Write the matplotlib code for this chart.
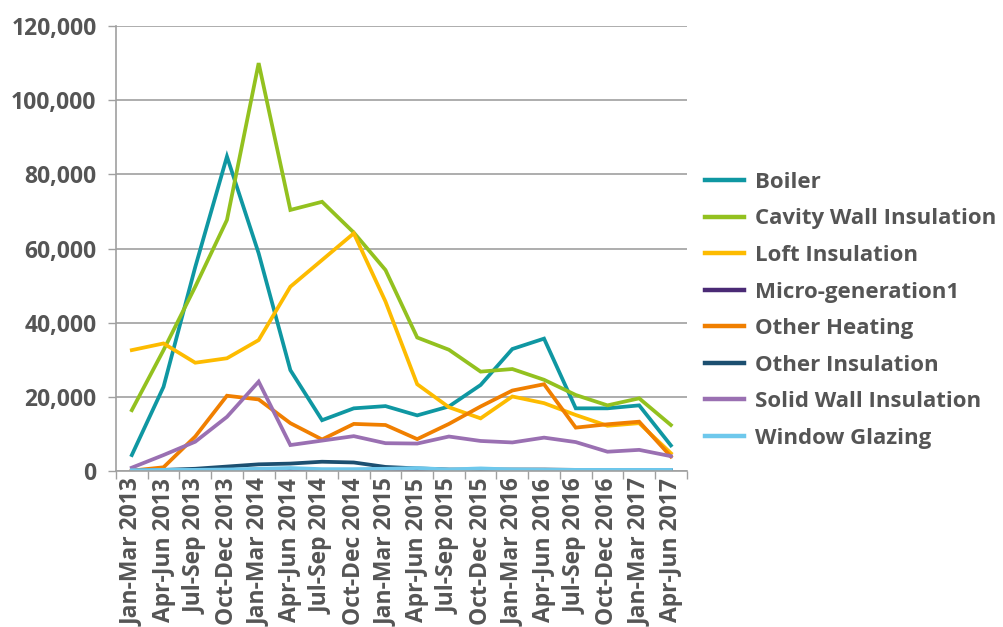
import numpy as np
import matplotlib.pyplot as plt
from matplotlib.ticker import FuncFormatter, FixedLocator

# Quarterly measures installed, by measure type
quarters = [
    "Jan-Mar 2013", "Apr-Jun 2013", "Jul-Sep 2013", "Oct-Dec 2013",
    "Jan-Mar 2014", "Apr-Jun 2014", "Jul-Sep 2014", "Oct-Dec 2014",
    "Jan-Mar 2015", "Apr-Jun 2015", "Jul-Sep 2015", "Oct-Dec 2015",
    "Jan-Mar 2016", "Apr-Jun 2016", "Jul-Sep 2016", "Oct-Dec 2016",
    "Jan-Mar 2017", "Apr-Jun 2017",
]

boiler = [4300, 22700, 55000, 84800, 58700, 27200, 13700, 16900, 17500,
          15000, 17400, 23200, 32900, 35700, 16900, 16900, 17700, 6900]
cavity_wall = [16400, 32600, 49700, 67700, 110000, 70400, 72600, 64300, 54200,
               36000, 32700, 26800, 27500, 24600, 20500, 17700, 19600, 12400]
loft = [32600, 34400, 29200, 30400, 35300, 49700, 56900, 64100, 45700,
        23400, 17200, 14200, 20100, 18300, 15100, 12200, 12900, 4800]
micro_generation = [50, 100, 150, 200, 300, 200, 100, 100, 150,
                    300, 100, 100, 100, 100, 100, 100, 100, 100]
other_heating = [100, 1000, 9300, 20300, 19300, 12900, 8500, 12700, 12400,
                 8600, 12700, 17400, 21700, 23400, 11700, 12600, 13300, 3900]
other_insulation = [100, 300, 600, 1200, 1800, 2000, 2500, 2300, 1100,
                    700, 400, 400, 400, 400, 300, 300, 300, 200]
solid_wall = [900, 4300, 7900, 14600, 24100, 7000, 8200, 9400, 7500,
              7400, 9300, 8100, 7700, 9000, 7800, 5200, 5700, 4000]
window_glazing = [200, 300, 300, 400, 600, 800, 500, 500, 600,
                  800, 400, 700, 400, 300, 300, 300, 300, 300]

series = [
    ("Boiler", boiler, "#0f97a2"),
    ("Cavity Wall Insulation", cavity_wall, "#93c11f"),
    ("Loft Insulation", loft, "#fdbb00"),
    ("Micro-generation1", micro_generation, "#4a2a75"),
    ("Other Heating", other_heating, "#f07f00"),
    ("Other Insulation", other_insulation, "#1c4f70"),
    ("Solid Wall Insulation", solid_wall, "#9a70b2"),
    ("Window Glazing", window_glazing, "#6ec8ec"),
]

text_color = "#555555"
grid_color = "#a0a0a0"
plt.rcParams["font.family"] = ["Open Sans", "DejaVu Sans"]

fig = plt.figure(figsize=(10.04, 6.27), dpi=100)
ax = fig.add_axes([0.1155, 0.2488, 0.5685, 0.7097])

x = np.arange(len(quarters))
for name, vals, col in series:
    ax.plot(x, vals, color=col, lw=2.7, label=name, solid_joinstyle="miter")

ax.set_xlim(-0.5, len(quarters) - 0.5)
ax.set_ylim(0, 120000)
ax.set_yticks(np.arange(0, 120001, 20000))
ax.yaxis.set_major_formatter(FuncFormatter(lambda v, p: f"{int(v):,}"))
ax.grid(axis="y", color=grid_color, lw=1.2)
ax.set_axisbelow(True)

# labels centred on each quarter, tick marks between quarters
ax.set_xticks(x)
ax.set_xticklabels(quarters, rotation=90)
ax.xaxis.set_minor_locator(FixedLocator(np.arange(-0.5, len(quarters), 1)))
ax.tick_params(axis="x", which="major", length=0, pad=5)
ax.tick_params(axis="x", which="minor", length=6, color=grid_color, width=1)
ax.tick_params(axis="y", length=6, color=grid_color, width=1, pad=8)

for lbl in ax.get_xticklabels() + ax.get_yticklabels():
    lbl.set_fontsize(16.5)
    lbl.set_fontweight("bold")
    lbl.set_color(text_color)

for side in ["top", "right"]:
    ax.spines[side].set_visible(False)
for side in ["left", "bottom"]:
    ax.spines[side].set_color(grid_color)
    ax.spines[side].set_linewidth(1.2)

leg = fig.legend(loc="center left", bbox_to_anchor=(0.702, 0.505), frameon=False,
                 borderpad=0, borderaxespad=0,
                 handlelength=1.75, handletextpad=0.5, labelspacing=0.7,
                 prop={"size": 16, "weight": "bold"})
for t in leg.get_texts():
    t.set_color(text_color)
for h in leg.get_lines():
    h.set_linewidth(3.2)

fig.savefig("out.png", dpi=100)
